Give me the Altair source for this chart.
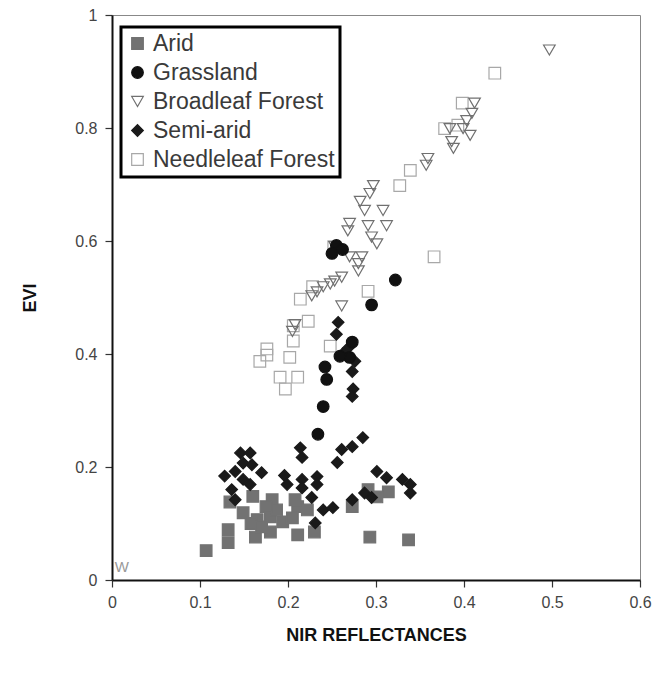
import altair as alt
import pandas as pd

# ---- data ----
categories = ["Arid", "Grassland", "Broadleaf Forest", "Semi-arid", "Needleleaf Forest"]

needle_x = [0.435, 0.398, 0.393, 0.378, 0.339, 0.327, 0.366, 0.291, 0.248, 0.214, 0.228,
            0.223, 0.206, 0.206, 0.202, 0.176, 0.168, 0.191, 0.211, 0.197, 0.252, 0.176]
needle_y = [0.897, 0.844, 0.805, 0.799, 0.725, 0.698, 0.572, 0.511, 0.414, 0.497, 0.519,
            0.458, 0.450, 0.423, 0.394, 0.409, 0.387, 0.359, 0.359, 0.338, 0.590, 0.398]

broad_x = [0.497, 0.412, 0.409, 0.403, 0.407, 0.399, 0.384, 0.386, 0.388, 0.359, 0.357,
           0.297, 0.293, 0.282, 0.287, 0.308, 0.270, 0.291, 0.312, 0.268, 0.295, 0.301,
           0.270, 0.284, 0.280, 0.280, 0.261, 0.253, 0.248, 0.240, 0.233, 0.227, 0.261,
           0.253, 0.208, 0.205]
broad_y = [0.938, 0.844, 0.826, 0.813, 0.787, 0.799, 0.799, 0.776, 0.764, 0.746, 0.734,
           0.698, 0.684, 0.670, 0.654, 0.654, 0.631, 0.627, 0.627, 0.618, 0.607, 0.595,
           0.572, 0.572, 0.560, 0.547, 0.536, 0.529, 0.524, 0.519, 0.510, 0.503, 0.485,
           0.590, 0.452, 0.440]

arid_x = [0.107, 0.134, 0.132, 0.132, 0.160, 0.182, 0.149, 0.165, 0.180, 0.194, 0.163,
          0.180, 0.158, 0.170, 0.211, 0.211, 0.230, 0.222, 0.273, 0.291, 0.293, 0.314,
          0.337, 0.301, 0.208, 0.205, 0.187, 0.175]
arid_y = [0.052, 0.138, 0.089, 0.066, 0.148, 0.142, 0.119, 0.107, 0.112, 0.103, 0.076,
          0.085, 0.100, 0.094, 0.130, 0.080, 0.085, 0.124, 0.130, 0.160, 0.076, 0.156,
          0.071, 0.147, 0.142, 0.110, 0.124, 0.130]

semi_x = [0.257, 0.255, 0.276, 0.273, 0.274, 0.273, 0.262, 0.268,
          0.146, 0.157, 0.149, 0.159, 0.128, 0.140, 0.149, 0.157, 0.140, 0.196, 0.199,
          0.214, 0.216, 0.216, 0.216, 0.233, 0.233, 0.227, 0.231, 0.240, 0.251, 0.256,
          0.261, 0.273, 0.285, 0.273, 0.287, 0.295, 0.301, 0.312, 0.330, 0.339, 0.339,
          0.136, 0.170]
semi_y = [0.456, 0.435, 0.387, 0.369, 0.338, 0.325, 0.400, 0.410,
          0.225, 0.225, 0.207, 0.204, 0.184, 0.192, 0.178, 0.169, 0.142, 0.185, 0.169,
          0.234, 0.217, 0.178, 0.163, 0.183, 0.169, 0.146, 0.101, 0.124, 0.128, 0.208,
          0.231, 0.236, 0.252, 0.142, 0.154, 0.146, 0.192, 0.181, 0.178, 0.169, 0.154,
          0.160, 0.190]

grass_x = [0.322, 0.295, 0.242, 0.244, 0.240, 0.234, 0.270, 0.259, 0.273, 0.255, 0.250, 0.262]
grass_y = [0.531, 0.487, 0.377, 0.355, 0.307, 0.258, 0.394, 0.396, 0.421, 0.592, 0.578, 0.585]

x_ticks = [0, 0.1, 0.2, 0.3, 0.4, 0.5, 0.6]
y_ticks = [0, 0.2, 0.4, 0.6, 0.8, 1]

# drawing order: open symbols first, filled on top
rows = []
for name, xs, ys in [("Needleleaf Forest", needle_x, needle_y),
                     ("Broadleaf Forest", broad_x, broad_y),
                     ("Arid", arid_x, arid_y),
                     ("Semi-arid", semi_x, semi_y),
                     ("Grassland", grass_x, grass_y)]:
    for a, b in zip(xs, ys):
        rows.append({"type": name, "nir": a, "evi": b})
df = pd.DataFrame(rows)

fills = ["#727272", "#111111", "transparent", "#1a1a1a", "transparent"]
strokes = ["#727272", "#111111", "#707070", "#1a1a1a", "#a8a8a8"]
shapes = ["square", "circle", "triangle-down", "diamond", "square"]
sizes = [135, 135, 105, 80, 170]

leg = alt.Legend(title=None, orient="none", legendX=9, legendY=12,
                 strokeColor="#000", fillColor="white", padding=5,
                 labelFontSize=23, labelColor="#3a3a3a", labelFont="Liberation Sans",
                 labelLimit=0, rowPadding=5, labelOffset=4, symbolStrokeWidth=1.2)

points = alt.Chart(df).mark_point(opacity=1, strokeWidth=1.2).encode(
    x=alt.X("nir:Q", scale=alt.Scale(domain=[0, 0.6], nice=False),
            axis=alt.Axis(values=x_ticks, title="NIR REFLECTANCES", format="~g",
                          grid=False, tickSize=7, labelPadding=7, labelFlush=False,
                          titleY=55, titleBaseline="middle")),
    y=alt.Y("evi:Q", scale=alt.Scale(domain=[0, 1], nice=False),
            axis=alt.Axis(values=y_ticks, title="EVI", format="~g", grid=False,
                          tickSize=7, labelPadding=8, titleX=-82,
                          titleBaseline="middle")),
    shape=alt.Shape("type:N", scale=alt.Scale(domain=categories, range=shapes), legend=leg),
    fill=alt.Fill("type:N", scale=alt.Scale(domain=categories, range=fills), legend=leg),
    stroke=alt.Stroke("type:N", scale=alt.Scale(domain=categories, range=strokes), legend=leg),
    size=alt.Size("type:N", scale=alt.Scale(domain=categories, range=sizes), legend=leg),
)

wlabel = alt.Chart(pd.DataFrame({"t": ["W"], "nir": [0.003], "evi": [0.008]})).mark_text(
    align="left", baseline="bottom", fontSize=15, color="#999", font="Liberation Sans"
).encode(x="nir:Q", y="evi:Q", text="t:N")

chart = alt.layer(points, wlabel).properties(
    width=528, height=565,
    autosize="none",
    padding={"left": 104, "top": 7, "right": 14, "bottom": 80},
).configure_view(
    stroke="#888", strokeWidth=1
).configure_axis(
    labelFont="Liberation Sans", labelFontSize=16, labelColor="#444",
    titleFont="Liberation Sans", titleFontSize=18, titleFontWeight="bold", titleColor="#111",
    domainColor="#111", domainWidth=2, tickColor="#333", tickWidth=1.2
).configure_legend(
    strokeWidth=3
)

chart.save("out.html", embed_options={"renderer": "svg", "actions": False})
